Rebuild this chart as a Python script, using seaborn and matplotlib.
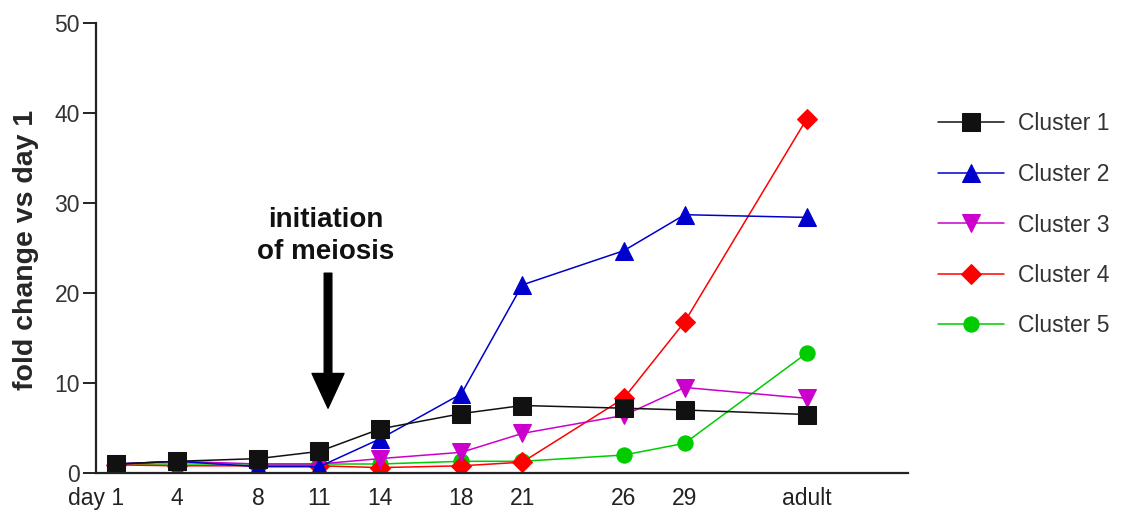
import matplotlib
matplotlib.use("Agg")
import matplotlib.pyplot as plt
import matplotlib.transforms as mtransforms
import seaborn as sns
import pandas as pd

# ---- data ----
day_labels = ["day 1", "4", "8", "11", "14", "18", "21", "26", "29", "adult"]
day_pos = [1, 4, 8, 11, 14, 18, 21, 26, 29, 35]   # "adult" drawn at 35
clusters = ["Cluster 1", "Cluster 2", "Cluster 3", "Cluster 4", "Cluster 5"]
cluster1 = [1.0, 1.3, 1.6, 2.4, 4.9, 6.6, 7.5, 7.2, 7.0, 6.5]
cluster2 = [1.0, 1.3, 0.7, 0.7, 3.8, 8.8, 20.9, 24.7, 28.7, 28.4]
cluster3 = [1.0, 1.3, 1.0, 1.0, 1.6, 2.3, 4.4, 6.4, 9.5, 8.3]
cluster4 = [0.9, 0.8, 0.8, 0.8, 0.6, 0.8, 1.2, 8.3, 16.8, 39.3]
cluster5 = [1.0, 1.0, 1.0, 1.0, 1.0, 1.3, 1.3, 2.0, 3.3, 13.3]
series = [cluster1, cluster2, cluster3, cluster4, cluster5]

colors = {"Cluster 1": "#111111", "Cluster 2": "#0000CC", "Cluster 3": "#CC00CC",
          "Cluster 4": "#FF0000", "Cluster 5": "#00CC00"}
markers = {"Cluster 1": "s", "Cluster 2": "^", "Cluster 3": "v",
           "Cluster 4": "D", "Cluster 5": "o"}
msizes = {"Cluster 1": 13, "Cluster 2": 13, "Cluster 3": 13,
          "Cluster 4": 10, "Cluster 5": 11}

rows = []
for name, vals in zip(clusters, series):
    for d, v in zip(day_pos, vals):
        rows.append({"day": d, "fold": v, "cluster": name})
df = pd.DataFrame(rows)

sns.set_style("white")
plt.rcParams["font.family"] = ["Liberation Sans", "DejaVu Sans"]

fig = plt.figure(figsize=(11.21, 5.14), dpi=100)
ax = fig.add_axes([96 / 1121, 1 - 473 / 514, (908 - 96) / 1121, (473 - 23) / 514])

for name in reversed(clusters):
    sub = df[df["cluster"] == name]
    sns.lineplot(data=sub, x="day", y="fold", ax=ax, color=colors[name],
                 marker=markers[name], markersize=msizes[name],
                 markeredgecolor=colors[name], linewidth=1.1, label=name)

ax.set_xlim(0, 40)
ax.set_ylim(0, 50)
ax.set_xticks(day_pos)
ax.set_xticklabels(day_labels)
ax.set_yticks([0, 10, 20, 30, 40, 50])
ax.set_xlabel("")
ax.set_ylabel("fold change vs day 1", fontsize=20.5, fontweight="bold")
ax.yaxis.set_label_coords(-0.070, 0.496)

for s in ["top", "right"]:
    ax.spines[s].set_visible(False)
for s in ["left", "bottom"]:
    ax.spines[s].set_color("#222222")
    ax.spines[s].set_linewidth(1.6)

ax.tick_params(axis="y", direction="out", length=9.5, width=1.4, color="#222222",
               labelsize=16.5, labelcolor="#333333", pad=2, left=True)
ax.tick_params(axis="x", length=0, labelsize=16.5, labelcolor="#222222", pad=10)

# shift "day 1" so that the "1" sits under the first point
first = ax.get_xticklabels()[0]
first.set_horizontalalignment("right")
first.set_transform(first.get_transform() +
                    mtransforms.ScaledTranslation(8 / 100, 0, fig.dpi_scale_trans))

# annotation
ax.text(11.3, 26.3, "initiation\nof meiosis", ha="center", va="center",
        fontsize=20, fontweight="bold", color="#111111", linespacing=1.3)
ax.annotate("", xy=(11.43, 7.2), xytext=(11.43, 22.2),
            arrowprops=dict(width=5.5, headwidth=23, headlength=25,
                            facecolor="black", edgecolor="black", shrink=0))

# legend in original order
handles, labels = ax.get_legend_handles_labels()
order = [labels.index(c) for c in clusters]
ax.legend([handles[i] for i in order], [labels[i] for i in order],
          loc="center left", bbox_to_anchor=(0.8265, 1 - 225 / 514),
          bbox_transform=fig.transFigure, frameon=False, fontsize=16.5,
          labelspacing=1.2, handlelength=2.9, handletextpad=0.6,
          borderpad=0, labelcolor="#333333")

fig.savefig("out.png", dpi=100)
